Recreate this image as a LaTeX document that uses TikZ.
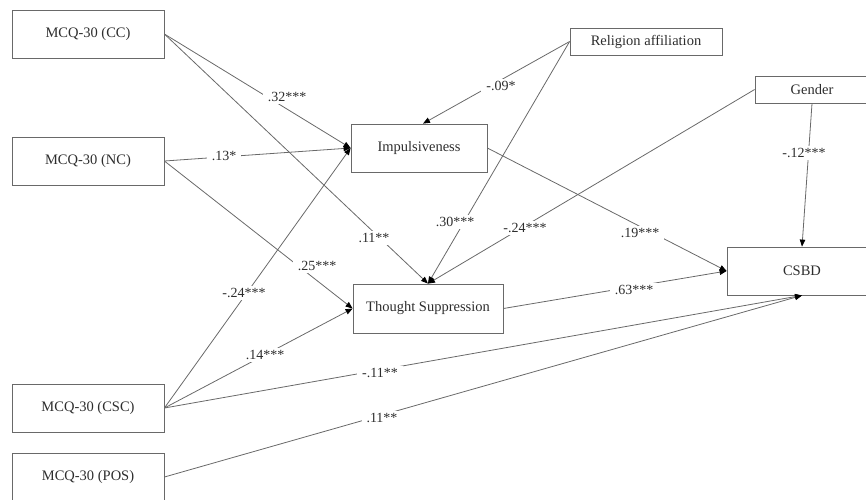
\documentclass[tikz,border=0pt]{standalone}
\usepackage{fontspec}
\setmainfont{Liberation Serif}
\usetikzlibrary{arrows.meta}
\definecolor{edge}{RGB}{105,105,105}
\definecolor{ink}{RGB}{45,45,45}
\begin{document}
\begin{tikzpicture}[x=1pt,y=-1pt,
  varbox/.style={draw=edge, line width=0.8pt, text=ink, inner sep=0pt,
    font=\fontsize{14.5}{17}\selectfont},
  wide/.style={varbox, minimum width=152pt, minimum height=48pt},
  path/.style={draw=edge, line width=0.8pt,
    -{Triangle[length=7pt,width=5.5pt,color=black]}},
  coef/.style={fill=white, text=ink, inner xsep=5pt, inner ysep=2.5pt,
    font=\fontsize{14}{16}\selectfont}]
\useasboundingbox (0,0) rectangle (866,499);
\clip (0,0) rectangle (866,499);

% observed variables
\node[wide] (cc)  at (88,34)  {MCQ-30 (CC)};
\node[wide] (nc)  at (88,161) {MCQ-30 (NC)};
\node[wide] (csc) at (88,408) {MCQ-30 (CSC)};
\node[wide] (pos) at (88,477) {MCQ-30 (POS)};
\node[varbox, minimum width=136pt, minimum height=48pt] (imp) at (419,148) {Impulsiveness};
\node[varbox, minimum width=150pt, minimum height=49pt] (ts)  at (428,308.5) {Thought Suppression};
\node[varbox, minimum width=152pt, minimum height=27pt] (rel) at (646,41.5) {Religion affiliation};
\node[varbox, minimum width=114pt, minimum height=27pt] (gen) at (812,89.5) {Gender};
\node[varbox, minimum width=150pt, minimum height=48pt] (csbd) at (802,271) {CSBD};

% structural paths
\draw[path] (cc.east)  -- (imp.west);
\draw[path] (cc.east)  -- (ts.north);
\draw[path] (nc.east)  -- (imp.west);
\draw[path] (nc.east)  -- (ts.west);
\draw[path] (csc.east) -- (imp.west);
\draw[path] (csc.east) -- (ts.west);
\draw[path] (csc.east) -- (csbd.south);
\draw[path] (pos.east) -- (csbd.south);
\draw[path] (rel.west) -- ([xshift=4pt]imp.north);
\draw[path] (rel.west) -- (ts.north);
\draw[path] (gen.west) -- (ts.north);
\draw[path] (gen.south) -- (csbd.north);
\draw[path] (imp.east) -- (csbd.west);
\draw[path] (ts.east)  -- (csbd.west);

% path coefficients
\node[coef] (k1)  at (287,97)  {.32***};
\node[coef] (k2)  at (224,156) {.13*};
\node[coef] (k3)  at (374,238) {.11**};
\node[coef] (k4)  at (317,266) {.25***};
\node[coef] (k5)  at (244,293) {-.24***};
\node[coef] (k6)  at (265,355) {.14***};
\node[coef] (k7)  at (380,373) {-.11**};
\node[coef] (k8)  at (382,418) {.11**};
\node[coef] (k9)  at (501,86)  {-.09*};
\node[coef] (k10) at (455,222) {.30***};
\node[coef] (k11) at (525,228) {-.24***};
\node[coef] (k12) at (804,153) {-.12***};
\node[coef] (k13) at (640,233) {.19***};
\node[coef] (k14) at (634,290) {.63***};
\end{tikzpicture}
\end{document}
